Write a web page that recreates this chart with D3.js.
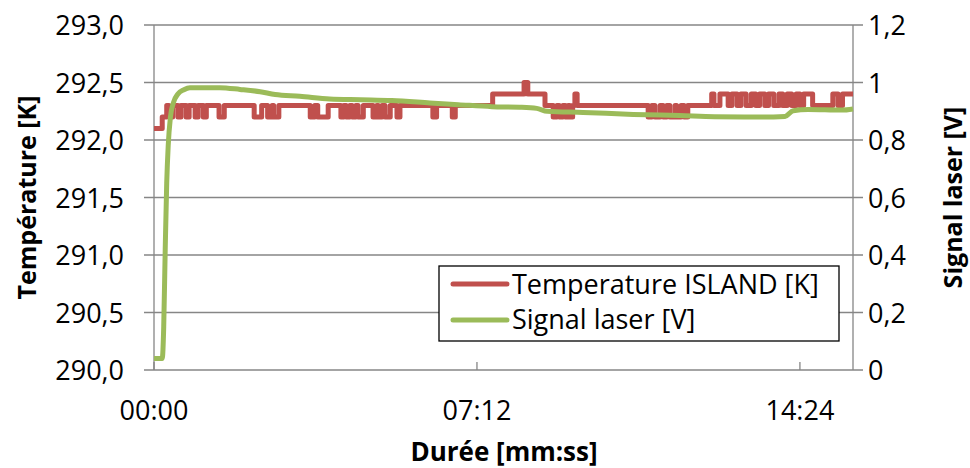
<!DOCTYPE html>
<html>
<head>
<meta charset="utf-8">
<script src="https://cdn.jsdelivr.net/npm/d3@7"></script>
<style>
  body { margin: 0; background: #fff; }
  svg { display: block; font-family: "Open Sans", "Noto Sans", sans-serif; }
</style>
</head>
<body>
<div id="chart"></div>
<script>
// temperature readings (step changes, 0.1 K resolution): time in s, value in K
const tempTime = [0, 11, 17, 20, 25, 32, 36, 43, 47, 55, 59, 66, 70, 87, 94, 134, 144, 152, 158, 160, 167,
  209, 215, 219, 233, 250, 254, 257, 262, 265, 270, 273, 280, 293, 298, 300, 305, 309, 316, 325, 329,
  373, 378, 399, 403, 453, 495, 500, 523, 534, 539, 542, 547, 550, 554, 556, 560, 563, 566,
  661, 666, 670, 677, 681, 686, 690, 697, 699, 705, 709, 714, 746, 749, 757,
  768, 773, 780, 785, 792, 799, 805, 810, 817, 822, 829, 836, 841, 847, 853, 859, 864, 869,
  881, 908, 915, 921, 935];
const tempVal = [292.1, 292.2, 292.3, 292.2, 292.3, 292.2, 292.3, 292.2, 292.3, 292.2, 292.3, 292.2, 292.3, 292.2, 292.3, 292.2, 292.3, 292.2, 292.3, 292.2, 292.3,
  292.2, 292.3, 292.2, 292.3, 292.2, 292.3, 292.2, 292.3, 292.2, 292.3, 292.2, 292.3, 292.2, 292.3, 292.2, 292.3, 292.2, 292.3, 292.2, 292.3,
  292.2, 292.3, 292.2, 292.3, 292.4, 292.5, 292.4, 292.3, 292.2, 292.3, 292.2, 292.3, 292.2, 292.3, 292.2, 292.3, 292.4, 292.3,
  292.2, 292.3, 292.2, 292.3, 292.2, 292.3, 292.2, 292.3, 292.2, 292.3, 292.2, 292.3, 292.4, 292.3, 292.4,
  292.3, 292.4, 292.3, 292.4, 292.3, 292.4, 292.3, 292.4, 292.3, 292.4, 292.3, 292.4, 292.3, 292.4, 292.3, 292.4, 292.3, 292.4,
  292.3, 292.4, 292.3, 292.4, 292.4];

// laser signal: time in s, value in V
const laserTime = [0, 11, 13, 15, 17, 19, 22, 26, 32, 40, 48, 88, 115, 142, 162, 195, 235, 276, 318, 369,
  407, 452, 489, 512, 526, 574, 641, 703, 750, 808, 844, 855, 875, 920, 935];
const laserVal = [0.04, 0.04, 0.15, 0.42, 0.65, 0.78, 0.88, 0.93, 0.96, 0.975, 0.982, 0.982, 0.976, 0.968, 0.958, 0.952, 0.943, 0.940, 0.937, 0.929,
  0.923, 0.916, 0.914, 0.910, 0.900, 0.896, 0.889, 0.885, 0.881, 0.880, 0.882, 0.902, 0.906, 0.904, 0.908];

const xTicks = [0, 432, 864];
const leftTicks = [290, 290.5, 291, 291.5, 292, 292.5, 293];
const rightTicks = [0, 0.2, 0.4, 0.6, 0.8, 1, 1.2];
const seriesNames = ["Temperature ISLAND [K]", "Signal laser [V]"];
const seriesColors = ["#C0504D", "#9BBB59"];

const width = 970, height = 468;
const margin = { left: 154, right: 117, top: 25, bottom: 98 };

const svg = d3.select("#chart").append("svg")
  .attr("width", width)
  .attr("height", height);

const x = d3.scaleLinear().domain([0, 935]).range([margin.left, width - margin.right]);
const yL = d3.scaleLinear().domain([290, 293]).range([height - margin.bottom, margin.top]);
const yR = d3.scaleLinear().domain([0, 1.2]).range([height - margin.bottom, margin.top]);

const fr = d3.formatLocale({ decimal: ",", thousands: " ", grouping: [3], currency: ["", "€"] });
const fmtL = fr.format(".1f");
const fmtR = fr.format("~g");
const fmtT = s => d3.format("02")(Math.floor(s / 60)) + ":" + d3.format("02")(s % 60);

const gridColor = "#868686";

// horizontal grid lines (extend out as left/right ticks)
svg.append("g")
  .selectAll("line")
  .data(leftTicks)
  .join("line")
  .attr("x1", margin.left - 10)
  .attr("x2", width - margin.right + 10)
  .attr("y1", d => yL(d))
  .attr("y2", d => yL(d))
  .attr("stroke", gridColor)
  .attr("stroke-width", 1.3);

// vertical axis lines
svg.append("line")
  .attr("x1", margin.left).attr("x2", margin.left)
  .attr("y1", margin.top).attr("y2", height - margin.bottom)
  .attr("stroke", gridColor).attr("stroke-width", 1.3);
svg.append("line")
  .attr("x1", width - margin.right).attr("x2", width - margin.right)
  .attr("y1", margin.top).attr("y2", height - margin.bottom)
  .attr("stroke", gridColor).attr("stroke-width", 1.3);

// x ticks (inside)
svg.append("g")
  .selectAll("line")
  .data(xTicks)
  .join("line")
  .attr("x1", d => x(d)).attr("x2", d => x(d))
  .attr("y1", height - margin.bottom).attr("y2", height - margin.bottom - 8)
  .attr("stroke", gridColor).attr("stroke-width", 1.3);

svg.append("g")
  .selectAll("text")
  .data(xTicks)
  .join("text")
  .attr("x", d => x(d))
  .attr("y", 420)
  .attr("text-anchor", "middle")
  .attr("font-size", 27)
  .text(fmtT);

svg.append("g")
  .selectAll("text")
  .data(leftTicks)
  .join("text")
  .attr("x", 124)
  .attr("y", d => yL(d) + 10)
  .attr("text-anchor", "end")
  .attr("font-size", 27)
  .text(fmtL);

svg.append("g")
  .selectAll("text")
  .data(rightTicks)
  .join("text")
  .attr("x", 868)
  .attr("y", d => yR(d) + 10)
  .attr("font-size", 27)
  .text(fmtR);

// axis titles
svg.append("text")
  .attr("transform", `translate(36,${(margin.top + height - margin.bottom) / 2}) rotate(-90)`)
  .attr("text-anchor", "middle")
  .attr("font-size", 25)
  .attr("font-weight", "bold")
  .text("Température [K]");

svg.append("text")
  .attr("transform", `translate(962,${(margin.top + height - margin.bottom) / 2}) rotate(-90)`)
  .attr("text-anchor", "middle")
  .attr("font-size", 25)
  .attr("font-weight", "bold")
  .text("Signal laser [V]");

svg.append("text")
  .attr("x", 504)
  .attr("y", 461)
  .attr("text-anchor", "middle")
  .attr("font-size", 26)
  .attr("font-weight", "bold")
  .text("Durée [mm:ss]");

// series
const tempData = tempTime.map((t, i) => [t, tempVal[i]]);
const laserData = laserTime.map((t, i) => [t, laserVal[i]]);

svg.append("path")
  .datum(tempData)
  .attr("fill", "none")
  .attr("stroke", seriesColors[0])
  .attr("stroke-width", 5)
  .attr("stroke-linejoin", "round")
  .attr("d", d3.line().curve(d3.curveStepAfter).x(d => x(d[0])).y(d => yL(d[1])));

svg.append("path")
  .datum(laserData)
  .attr("fill", "none")
  .attr("stroke", seriesColors[1])
  .attr("stroke-width", 5)
  .attr("stroke-linejoin", "round")
  .attr("d", d3.line().curve(d3.curveMonotoneX).x(d => x(d[0])).y(d => yR(d[1])));

// legend
const lg = svg.append("g").attr("transform", "translate(439,266)");
lg.append("rect")
  .attr("width", 400).attr("height", 75)
  .attr("fill", "#fff").attr("stroke", "#000").attr("stroke-width", 1.3);
seriesNames.forEach((name, i) => {
  lg.append("line")
    .attr("x1", 14).attr("x2", 68)
    .attr("y1", 18 + i * 36).attr("y2", 18 + i * 36)
    .attr("stroke", seriesColors[i]).attr("stroke-width", 5).attr("stroke-linecap", "round");
  lg.append("text")
    .attr("x", 73).attr("y", 28 + i * 35)
    .attr("font-size", 27)
    .text(name);
});
</script>
</body>
</html>
